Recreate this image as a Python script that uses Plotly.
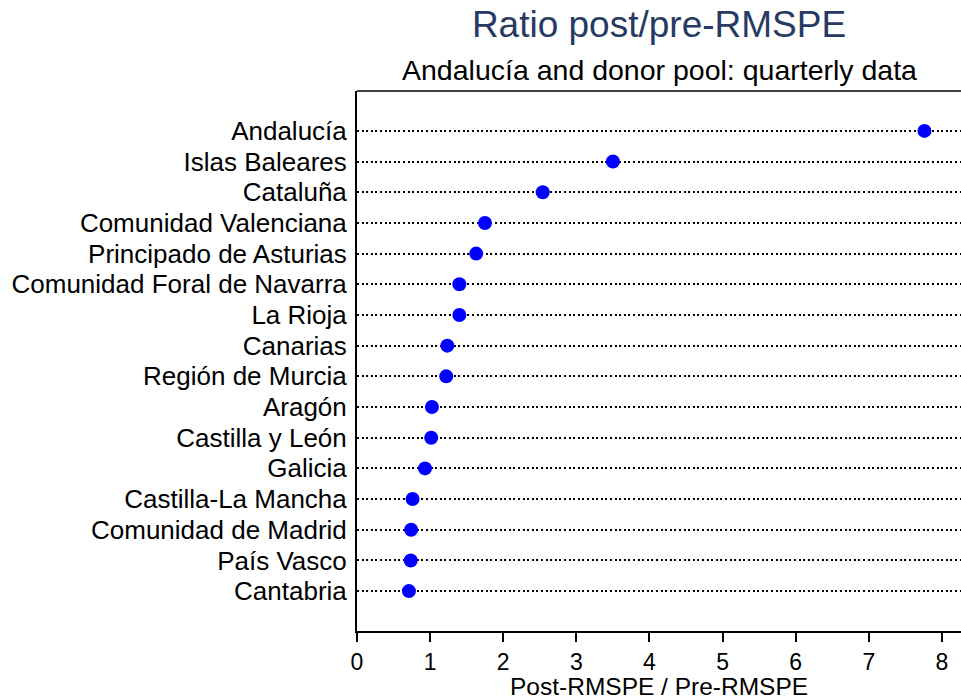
import plotly.graph_objects as go

# Post/pre-treatment RMSPE ratio for Andalucía and each donor-pool region
regions = [
    "Andalucía", "Islas Baleares", "Cataluña", "Comunidad Valenciana",
    "Principado de Asturias", "Comunidad Foral de Navarra", "La Rioja",
    "Canarias", "Región de Murcia", "Aragón", "Castilla y León", "Galicia",
    "Castilla-La Mancha", "Comunidad de Madrid", "País Vasco", "Cantabria",
]
ratios = [
    7.76, 3.50, 2.54, 1.75,
    1.63, 1.40, 1.40,
    1.235, 1.22, 1.025, 1.015, 0.93,
    0.76, 0.74, 0.735, 0.71,
]
x_ticks = [0, 1, 2, 3, 4, 5, 6, 7, 8]

FONT = "Liberation Sans, Arial, sans-serif"

fig = go.Figure(
    go.Scatter(
        x=ratios,
        y=regions,
        mode="markers",
        marker=dict(color="#0000FF", size=14, line=dict(width=0)),
        hoverinfo="x+y",
    )
)

fig.update_layout(
    width=961,
    height=700,
    margin=dict(l=357, r=0, t=91, b=69),
    paper_bgcolor="white",
    plot_bgcolor="white",
    showlegend=False,
    font=dict(family=FONT, size=26, color="black"),
    title=dict(
        text="Ratio post/pre-RMSPE",
        x=(357 + 961) / 2 / 961,
        xanchor="center",
        y=1 - 24 / 700,
        yanchor="middle",
        font=dict(family=FONT, size=37, color="#263a63"),
    ),
    annotations=[
        dict(
            text="Andalucía and donor pool: quarterly data",
            xref="paper", yref="paper",
            x=0.5, y=(631 - 70) / 540,
            xanchor="center", yanchor="middle",
            showarrow=False,
            font=dict(family=FONT, size=28.5, color="black"),
        ),
        dict(
            text="Post-RMSPE / Pre-RMSPE",
            xref="paper", yref="paper",
            x=0.5, y=-(686 - 631) / 540,
            xanchor="center", yanchor="middle",
            showarrow=False,
            font=dict(family=FONT, size=24.5, color="black"),
        ),
    ],
    shapes=[
        dict(
            type="line", xref="paper", yref="paper",
            x0=0, x1=1, y0=1, y1=1,
            line=dict(color="black", width=1.5),
        )
    ],
)

fig.update_xaxes(
    range=[0, 8.26],
    tickmode="array",
    tickvals=x_ticks,
    ticktext=[str(v) for v in x_ticks],
    showgrid=False,
    zeroline=False,
    showline=True,
    linecolor="black",
    linewidth=2,
    ticks="outside",
    ticklen=9,
    tickwidth=1.5,
    tickcolor="black",
    tickfont=dict(size=23, color="black"),
)

fig.update_yaxes(
    type="category",
    categoryorder="array",
    categoryarray=regions,
    tickmode="array",
    tickvals=regions,
    ticktext=regions,
    range=[len(regions) - 1 + 1.3, -1.3],
    showgrid=True,
    gridcolor="black",
    gridwidth=2,
    griddash="2px,2.6px",
    zeroline=False,
    showline=True,
    linecolor="black",
    linewidth=2,
    ticks="",
    ticklabelstandoff=3,
    tickfont=dict(size=26, color="black"),
)

fig.write_html("out.html")
